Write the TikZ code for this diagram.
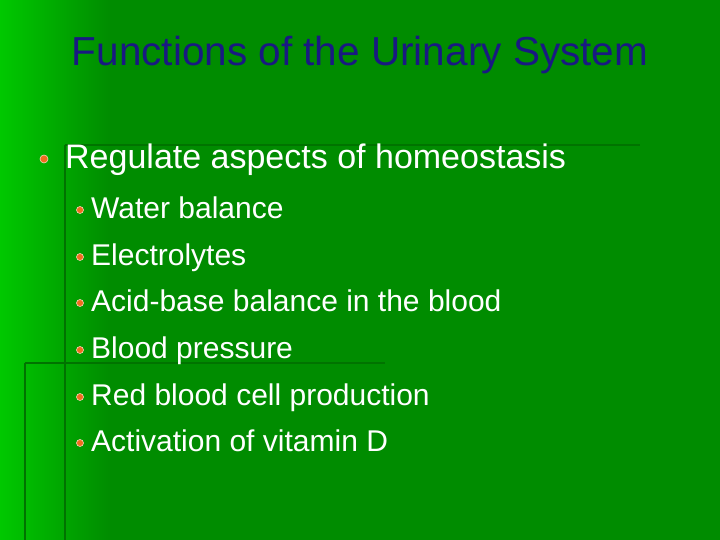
\documentclass[tikz,border=0pt]{standalone}
\usepackage{fontspec}
\setmainfont{Liberation Sans}
\definecolor{bgdark}{RGB}{0,140,0}
\definecolor{bglight}{RGB}{0,200,0}
\definecolor{lineg}{RGB}{0,115,0}
\definecolor{titleblue}{RGB}{25,25,130}
\definecolor{bul}{RGB}{240,110,30}
\begin{document}
\begin{tikzpicture}[x=1pt,y=1pt,
  item/.style={anchor=base west,text=white,font=\fontsize{30}{34}\selectfont,inner sep=0},
  dot/.style={circle,fill=bul,draw=white!70!bul,line width=0.6pt,inner sep=0,minimum size=8pt}]
\useasboundingbox (0,0) rectangle (720,540);
\fill[bgdark] (0,0) rectangle (720,540);
\shade[left color=bglight,right color=bgdark] (0,0) rectangle (110,540);
\draw[lineg,line width=1.5pt] (65,395) -- (640,395);
\draw[lineg,line width=1.5pt] (65,395) -- (65,0);
\draw[lineg,line width=1.5pt] (25,177) -- (385,177);
\draw[lineg,line width=1.2pt] (25,177) -- (25,0);
\node[font=\fontsize{40.5}{44}\selectfont,text=titleblue] (title) at (360,485) {Functions of the Urinary System};
\node[dot] (b0) at (44,381) {};
\node[anchor=base west,text=white,font=\fontsize{34}{38}\selectfont,inner sep=0] (t0) at (65,371) {Regulate aspects of homeostasis};
\foreach \i/\y/\t in {1/321/Water balance,2/274/Electrolytes,3/228/Acid-base balance in the blood,4/181/Blood pressure,5/134/Red blood cell production,6/88/Activation of vitamin D}{
  \node[dot,minimum size=7pt] (b\i) at (80,\y+9) {};
  \node[item] (t\i) at (91,\y) {\t};
}
\end{tikzpicture}
\end{document}
